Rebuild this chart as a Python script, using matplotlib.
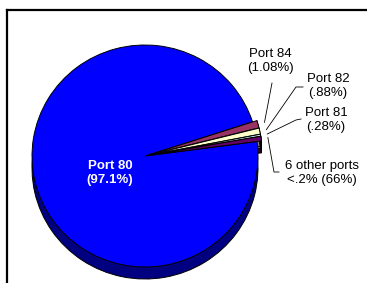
import matplotlib.pyplot as plt
import numpy as np
from matplotlib.patches import Rectangle, Polygon
from matplotlib.lines import Line2D

plt.rcParams['font.family'] = ['Liberation Sans', 'DejaVu Sans']

ports = ['Port 80', 'Port 84', 'Port 82', 'Port 81', '6 other ports']
shares = [97.1, 1.08, 0.88, 0.28, 0.66]
top_colors = ['#0000FF', '#993366', '#FFFFCC', '#CCFFFF', '#660066']
side_colors = ['#000080', '#4d1a33', '#808066', '#668080', '#330033']
label_text = ['Port 80\n(97.1%)', 'Port 84\n(1.08%)', 'Port 82\n(.88%)',
              'Port 81\n(.28%)', '6 other ports\n<.2% (66%)']

W, H = 367, 283
fig = plt.figure(figsize=(W / 100, H / 100), dpi=100)
ax = fig.add_axes([0, 0, 1, 1])

# pie centre / radii in pixels
cx, cy, rx, ry = 145, 156, 113, 111
depth = 12 / ry
start = 7.5
explode = [0, 0.04, 0.04, 0.04, 0.04]


def px(x, y):
    # pixel position -> data position
    return (x - cx) / rx, (cy - y) / ry


# bottom layer (thickness)
bot, _ = ax.pie(shares, colors=side_colors, startangle=start, counterclock=False,
                explode=explode, center=(0, -depth),
                wedgeprops=dict(edgecolor='black', linewidth=0.7))
for w in bot:
    w.set_zorder(1)
ax.add_patch(Rectangle((-1, -depth), 2, depth, facecolor='#000080',
                       edgecolor='none', zorder=1.5))

# sides of the small exploded slices
top, _ = ax.pie(shares, colors=top_colors, startangle=start, counterclock=False,
                explode=explode,
                wedgeprops=dict(edgecolor='black', linewidth=0.7))
for i, w in enumerate(top):
    w.set_zorder(3)
    if i == 0:
        continue
    t1, t2 = np.radians(w.theta1), np.radians(w.theta2)
    c = w.center
    th = np.linspace(t1, t2, 20)
    xs = c[0] + np.cos(th)
    ys = c[1] + np.sin(th)
    pts = np.column_stack([np.r_[xs, xs[::-1]], np.r_[ys, ys[::-1] - depth]])
    ax.add_patch(Polygon(pts, closed=True, facecolor=side_colors[i],
                         edgecolor='black', linewidth=0.6, zorder=2))

ax.set_aspect('auto')
ax.set_xlim(px(0, 0)[0], px(W, 0)[0])
ax.set_ylim(px(0, H)[1], px(0, 0)[1])
ax.axis('off')

# Port 80 label
lx, ly = px(110, 173)
ax.text(lx, ly, label_text[0], color='white', fontsize=9.5, fontweight='bold',
        ha='center', va='center', zorder=5, linespacing=1.25)

# small slice labels with leader lines
text_pos = [None, (270, 61), (328, 86), (326, 120), (322, 173)]
elbows = [None, [(272, 83)], [(296, 87), (303, 87)], [(296, 120), (301, 119)],
          [(274, 172), (279, 172)]]
for i in range(1, len(shares)):
    w = top[i]
    mid = np.radians((w.theta1 + w.theta2) / 2)
    sx = w.center[0] + 1.06 * np.cos(mid)
    sy = w.center[1] + 1.06 * np.sin(mid)
    xs = [sx] + [px(*p)[0] for p in elbows[i]]
    ys = [sy] + [px(*p)[1] for p in elbows[i]]
    ax.plot(xs, ys, color='black', linewidth=0.6, zorder=4)
    tx, ty = px(*text_pos[i])
    ax.text(tx, ty, label_text[i], fontsize=9.5, ha='center', va='center',
            linespacing=1.25, zorder=5)

# cropped frame
fig.add_artist(Line2D([7 / W, 7 / W], [0, 1 - 10 / H], color='black', linewidth=1.6,
                      transform=fig.transFigure))
fig.add_artist(Line2D([7 / W, 1], [1 - 10 / H, 1 - 10 / H], color='black', linewidth=1.6,
                      transform=fig.transFigure))

fig.savefig('out.png', dpi=100)
